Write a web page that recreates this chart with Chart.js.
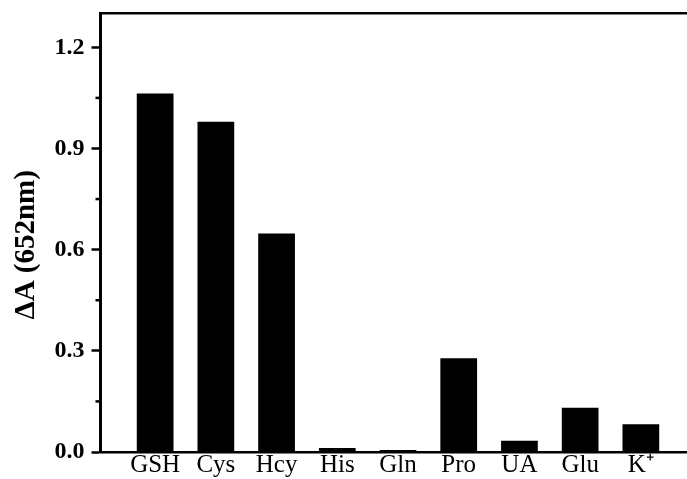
<!DOCTYPE html>
<html>
<head>
<meta charset="utf-8">
<script src="https://cdn.jsdelivr.net/npm/chart.js@4.4.1/dist/chart.umd.min.js"></script>
<style>
  html, body { margin: 0; padding: 0; background: #fff; }
  #wrap { width: 687px; height: 479px; }
</style>
</head>
<body>
<div id="wrap"><canvas id="c" width="687" height="479"></canvas></div>
<script>
// Absorbance change at 652 nm for each analyte
const categories = ['GSH', 'Cys', 'Hcy', 'His', 'Gln', 'Pro', 'UA', 'Glu', 'K\u207A'];
const deltaA = [1.063, 0.979, 0.648, 0.012, 0.006, 0.278, 0.033, 0.131, 0.082];
const yMajorTicks = [0.0, 0.3, 0.6, 0.9, 1.2];
const yMinorTicks = [0.15, 0.45, 0.75, 1.05];
const yTitle = '\u0394A (652nm)';

const SERIF = "'Liberation Serif', 'Times New Roman', serif";

// short minor tick marks and the rotated title of the left axis
const leftAxisExtras = {
  id: 'leftAxisExtras',
  afterDraw(chart) {
    const y = chart.scales.y;
    const area = chart.chartArea;
    const ctx = chart.ctx;
    ctx.save();
    ctx.strokeStyle = '#000';
    ctx.lineWidth = 2.5;
    yMinorTicks.forEach(v => {
      const py = y.getPixelForValue(v);
      ctx.beginPath();
      ctx.moveTo(area.left - 5, py);
      ctx.lineTo(area.left, py);
      ctx.stroke();
    });
    ctx.translate(area.left - 74, (area.top + area.bottom) / 2 + 12);
    ctx.rotate(-Math.PI / 2);
    ctx.fillStyle = '#000';
    ctx.font = "bold 29px " + SERIF;
    ctx.textAlign = 'center';
    ctx.textBaseline = 'middle';
    ctx.fillText(yTitle, 0, 0);
    ctx.restore();
  }
};

new Chart(document.getElementById('c'), {
  type: 'bar',
  data: {
    datasets: [{
      data: deltaA.map((v, i) => ({ x: i + 1, y: v })),
      backgroundColor: '#000',
      borderWidth: 0,
      categoryPercentage: 1.0,
      barPercentage: 0.605
    }]
  },
  options: {
    responsive: false,
    animation: false,
    layout: { padding: { top: 0, right: 0, bottom: 0, left: 47.5 } },
    plugins: { legend: { display: false }, tooltip: { enabled: false } },
    scales: {
      x: {
        type: 'linear',
        position: 'bottom',
        offset: false,
        min: 0.1,
        max: 9.76,
        grid: { display: false, drawTicks: false },
        border: { display: true, color: '#000', width: 2.5 },
        afterBuildTicks: axis => { axis.ticks = categories.map((c, i) => ({ value: i + 1 })); },
        ticks: {
          autoSkip: false,
          maxRotation: 0,
          padding: 1,
          color: '#000',
          font: { family: SERIF, size: 25, lineHeight: 1.0 },
          callback: v => categories[Math.round(v) - 1]
        }
      },
      xTop: {
        type: 'linear',
        position: 'top',
        offset: false,
        min: 0, max: 1,
        grid: { display: false, drawTicks: false },
        border: { display: true, color: '#000', width: 2.5 },
        ticks: { display: false }
      },
      y: {
        min: 0,
        max: 1.3,
        afterBuildTicks: axis => { axis.ticks = yMajorTicks.map(v => ({ value: v })); },
        grid: { drawOnChartArea: false, drawTicks: true, tickLength: 9, tickWidth: 2.5, tickColor: '#000' },
        border: { display: true, color: '#000', width: 3 },
        ticks: {
          padding: 7,
          color: '#000',
          font: { family: SERIF, size: 24, weight: 'bold', lineHeight: 0.55 },
          callback: v => Number(v).toFixed(1)
        },
        title: { display: false }
      }
    }
  },
  plugins: [leftAxisExtras]
});
</script>
</body>
</html>
